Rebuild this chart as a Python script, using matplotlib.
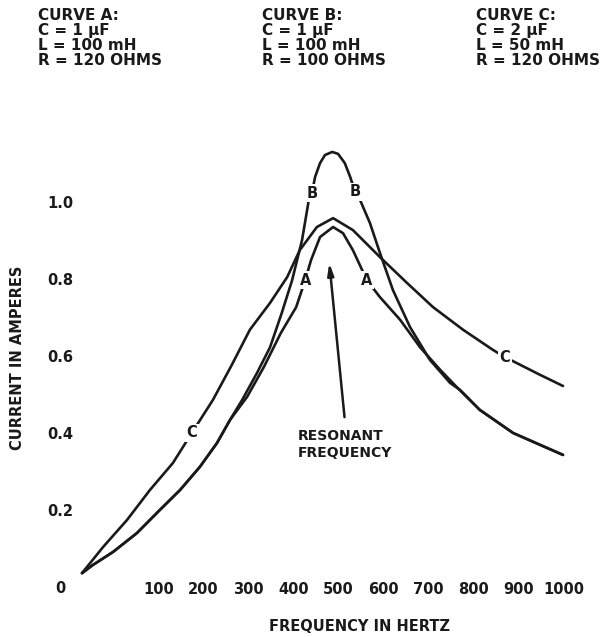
import matplotlib
matplotlib.use("Agg")
import matplotlib.pyplot as plt

# values (frequency in Hz, current in A)
# A and B share the same path on the low-frequency side
shared_f = [-70, -46, -1, 52, 103, 148, 192, 230, 259]
shared_i = [0.036, 0.057, 0.091, 0.140, 0.200, 0.252, 0.312, 0.374, 0.434]
# ... and merge again on the high-frequency side
tail_f = [814, 888, 999]
tail_i = [0.460, 0.400, 0.343]

a_f = [297, 334, 372, 406, 426, 439, 459, 488, 510, 532, 563, 592, 637, 681, 726, 763]
a_i = [0.494, 0.571, 0.660, 0.727, 0.797, 0.849, 0.909, 0.935, 0.919, 0.875, 0.797,
       0.753, 0.694, 0.623, 0.564, 0.519]

b_f = [286, 319, 348, 374, 397, 419, 434, 441, 448, 459, 470, 486, 499, 514, 526, 537,
       548, 570, 592, 621, 659, 703, 748, 770]
b_i = [0.486, 0.556, 0.623, 0.712, 0.797, 0.901, 1.005, 1.023, 1.065, 1.101, 1.122, 1.130,
       1.125, 1.101, 1.065, 1.026, 1.005, 0.945, 0.868, 0.771, 0.675, 0.590, 0.530, 0.512]

c_f = [-70, -23, 30, 81, 132, 174, 221, 263, 303, 348, 386, 414, 452, 488, 532, 592,
       652, 710, 777, 843, 870, 948, 999]
c_i = [0.036, 0.104, 0.174, 0.252, 0.322, 0.400, 0.486, 0.577, 0.668, 0.738, 0.805,
       0.875, 0.935, 0.958, 0.927, 0.857, 0.790, 0.727, 0.668, 0.616, 0.597, 0.551, 0.522]

# where the curve letters sit (index into each full curve)
a_labels = [13, 19]
b_labels = [16, 24]
c_labels = [5, 20]

x_ticks = [100, 200, 300, 400, 500, 600, 700, 800, 900, 1000]
y_ticks = [0, 0.2, 0.4, 0.6, 0.8, 1.0]
y_ticklabels = ["0", "0.2", "0.4", "0.6", "0.8", "1.0"]

legend_texts = [
    "CURVE A:\nC = 1 \u03bcF\nL = 100 mH\nR = 120 OHMS",
    "CURVE B:\nC = 1 \u03bcF\nL = 100 mH\nR = 100 OHMS",
    "CURVE C:\nC = 2 \u03bcF\nL = 50 mH\nR = 120 OHMS",
]

ink = "#1a1a1a"
plt.rcParams["font.family"] = ["DejaVu Sans"]
plt.rcParams["font.weight"] = "bold"
plt.rcParams["axes.labelweight"] = "bold"

fig = plt.figure(figsize=(6.16, 6.37), dpi=100)
ax = fig.add_axes([0.1112, 0.0483, 0.8766, 0.7555])
ax.set_xlim(-100, 1100)
ax.set_ylim(-0.05, 1.2)

curve_a = (shared_f + a_f + tail_f, shared_i + a_i + tail_i)
curve_b = (shared_f + b_f + tail_f, shared_i + b_i + tail_i)
curve_c = (c_f, c_i)

for f, i in (curve_a, curve_b, curve_c):
    ax.plot(f, i, color=ink, lw=1.9, solid_joinstyle="round", solid_capstyle="round",
            clip_on=False)

for name, (f, i), idx in (("A", curve_a, a_labels), ("B", curve_b, b_labels),
                          ("C", curve_c, c_labels)):
    for k in idx:
        ax.text(f[k], i[k], name, ha="center", va="center", fontsize=10.5, color=ink,
                bbox=dict(boxstyle="square,pad=0.1", fc="white", ec="none"), zorder=5)

# resonant frequency pointer
ax.annotate("", xy=(479, 0.849), xytext=(514, 0.434),
            arrowprops=dict(arrowstyle="-|>,head_length=0.7,head_width=0.18",
                            color=ink, lw=1.8))
ax.text(410, 0.41, "RESONANT\nFREQUENCY", ha="left", va="top", fontsize=10,
        color=ink, linespacing=1.3)

for s in ax.spines.values():
    s.set_visible(False)
ax.spines["bottom"].set_position(("data", 0.03))
ax.set_xticks(x_ticks)
ax.set_xticklabels([str(t) for t in x_ticks])
ax.set_yticks(y_ticks)
ax.set_yticklabels(y_ticklabels)
ax.tick_params(length=0, labelsize=10.5, colors=ink)
ax.tick_params(axis="x", pad=5)
ax.tick_params(axis="y", pad=6)
for lbl in ax.get_yticklabels():
    lbl.set_horizontalalignment("center")

ax.set_xlabel("FREQUENCY IN HERTZ", fontsize=10.5, color=ink)
ax.xaxis.set_label_coords(0.538, -0.043)
ax.xaxis.label.set_verticalalignment("center")
ax.set_ylabel("CURRENT IN AMPERES", fontsize=10.5, color=ink)
ax.yaxis.set_label_coords(-0.095, 0.516)
ax.yaxis.label.set_verticalalignment("center")

for x, txt in zip([0.062, 0.426, 0.773], legend_texts):
    fig.text(x, 0.988, txt, ha="left", va="top", fontsize=11, color=ink,
             linespacing=1.0)

fig.savefig("out.png", dpi=100, facecolor="white")
